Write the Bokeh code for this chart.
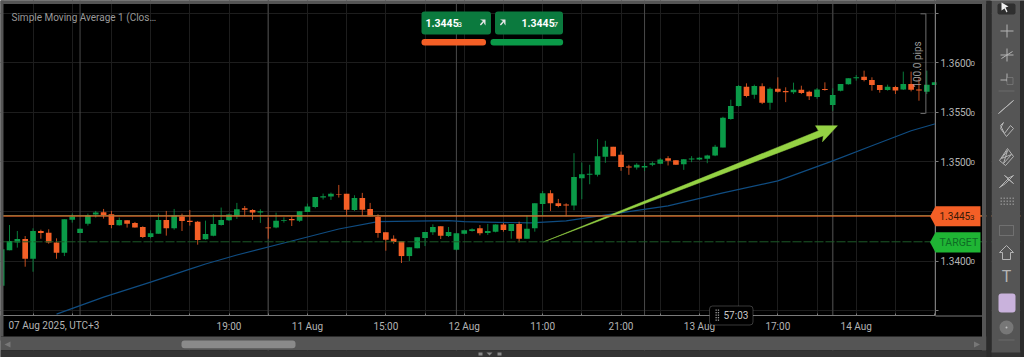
from bokeh.plotting import figure
from bokeh.embed import file_html
from bokeh.resources import INLINE
from bokeh.models import (BoxAnnotation, Label, PolyAnnotation, Span, FixedTicker, Range1d)

BASE = 1.34  # every series below is in pips (0.0001) above this price

colors_up = [1,1,1,0,1,0,0,0,1,1,1,1,1,0,0,1,0,0,0,1,1,0,1,0,0,0,1,1,1,1,1,0,0,1,0,1,1,0,1,1,1,1,1,0,
             0,1,0,0,0,0,0,0,1,1,1,1,0,1,1,1,1,0,1,1,0,1,0,1,1,1,0,0,0,1,1,1,1,1,0,0,0,1,1,1,1,0,
             0,1,1,1,1,1,1,1,1,0,1,0,1,0,0,1,0,0,1,0,1,1,1,1,0,0,0,1,0,1,0,0,1,1]
body_top = [11.8,20.2,22.2,22.2,30.3,30.3,28.6,18.8,42.1,44.8,32.6,46.1,48.8,49.1,47.1,41.4,41.1,38.4,34.3,27.9,41.4,
            41.4,46.1,44.8,40.7,39.7,27.3,37.4,41.4,46.8,52.2,53.2,51.5,50.2,33.7,40.7,41.4,42.4,50.2,54.9,64.6,
            65.3,67.7,67.3,67.7,63.6,63.6,52.5,44.4,29.0,22.5,20.2,13.8,23.9,29.3,34.3,35.0,29.3,27.9,31.0,32.0,
            33.0,30.3,36.7,36.7,37.4,37.4,32.6,58.2,68.3,68.3,58.2,56.9,84.8,87.5,87.9,105.7,115.1,115.1,107.1,95.3,
            97.0,95.9,98.6,102.3,103.7,101.7,102.7,103.3,104.0,106.4,115.1,144.4,156.2,176.4,175.7,176.4,176.1,173.7,173.7,171.4,
            172.7,172.7,170.7,173.0,173.4,167.3,178.4,184.2,185.2,185.8,182.5,177.4,175.7,175.4,178.4,178.4,173.0,177.8,180.1]
body_bot = [-25.0,10.8,18.8,2.3,2.3,28.3,18.8,8.4,8.4,41.7,28.3,37.7,46.8,46.4,36.4,36.0,37.7,33.7,24.2,24.2,27.6,
            33.0,33.0,40.4,39.4,21.2,21.9,25.6,36.4,41.1,45.1,51.8,48.8,48.8,33.0,33.7,40.7,41.1,40.7,49.5,54.5,
            64.0,65.0,66.7,51.8,51.5,51.8,45.1,28.3,21.5,19.2,5.0,5.0,12.8,23.2,29.0,25.6,25.2,11.4,27.6,30.3,
            27.9,28.3,29.6,31.3,30.3,22.5,22.5,33.0,57.6,58.2,55.5,55.9,55.9,83.5,86.9,86.9,105.0,105.7,94.9,94.3,
            94.3,94.3,97.0,98.0,101.0,97.0,97.6,102.3,102.3,103.0,106.4,114.5,143.1,156.2,166.3,167.7,159.6,159.6,170.7,170.0,
            170.0,169.3,166.0,165.3,172.4,157.2,171.7,178.1,184.2,182.5,177.4,172.4,172.4,172.0,173.0,172.7,172.0,170.7,177.4]
high = [11.8,36.3,30.3,25.2,33.0,31.6,32.0,22.9,42.1,47.8,32.6,47.8,50.5,52.5,50.5,43.8,41.1,39.4,35.0,31.0,47.8,
        50.5,52.5,47.8,51.5,40.4,40.7,47.1,53.9,47.8,58.6,55.5,52.2,52.2,43.8,48.8,44.1,44.8,50.2,57.9,64.6,
        68.0,69.0,76.7,67.7,66.3,68.7,58.6,47.1,29.0,25.9,20.2,13.8,23.9,29.3,37.0,35.0,34.3,27.9,31.6,33.0,
        36.3,37.4,37.0,38.4,37.4,39.7,46.1,58.2,70.7,71.4,62.6,58.2,108.7,99.3,97.0,122.9,121.2,115.1,110.4,97.0,
        98.6,98.6,100.3,103.7,105.7,101.7,102.7,105.7,104.7,107.1,117.1,145.4,162.6,177.4,179.1,177.8,179.1,175.1,185.2,175.1,
        179.8,176.7,171.7,174.4,180.1,174.1,178.4,184.2,187.5,191.9,185.2,177.4,177.8,176.7,190.9,190.9,184.2,191.9,180.1]
low = [-25.0,10.8,13.5,-5.7,-10.8,22.5,17.5,2.3,5.0,38.7,28.3,35.7,43.8,42.8,33.0,35.7,33.7,33.7,23.2,22.9,27.6,
       25.6,31.6,30.3,35.7,16.5,21.5,24.9,35.7,40.4,42.4,45.1,41.4,38.4,22.5,33.0,38.7,35.3,39.4,49.5,53.2,
       62.0,61.6,64.0,45.8,50.5,45.4,45.1,23.5,10.4,17.5,-2.0,0.0,12.8,15.1,26.3,22.2,24.2,10.8,26.9,29.6,
       25.9,26.3,28.9,29.6,22.5,18.8,22.5,29.6,46.1,50.5,54.2,45.1,51.2,62.3,77.4,85.2,99.0,105.7,90.9,86.9,
       92.2,90.9,95.6,97.6,96.3,97.0,91.9,99.6,101.7,98.6,105.7,114.5,142.4,155.5,165.0,163.6,158.2,152.5,169.7,160.2,
       168.3,168.3,162.3,163.6,171.7,151.5,171.0,177.8,181.8,181.1,171.7,169.7,171.7,168.3,172.4,171.0,161.6,168.3,177.4]

sma_idx = [6,12,18,23,25,29,35,42,47,56,58,66.5,71,77,84,91,98,105,110,115,118.1]
sma_val = [-53.5,-36.4,-21.2,-8.1,-3.0,6.1,18.2,32.3,39.7,40.7,39.7,38.4,40.4,47.5,55.6,68.7,80.8,101.0,116.2,131.3,138.4]

bid_price = 1.34453
ask_price = 1.34457
target_price = 1.34194

tick_every = list(range(-2, 119, 5))
tick_text = {28: "19:00", 38: "11 Aug", 48: "15:00", 58: "12 Aug", 68: "11:00",
             78: "21:00", 88: "13 Aug", 98: "17:00", 108: "14 Aug"}
session_idx = [9, 33, 57, 81, 105]
price_ticks = [1.335, 1.34, 1.345, 1.35, 1.355, 1.36, 1.365]
price_text = {1.34: "1.3400", 1.35: "1.3500", 1.355: "1.3550", 1.36: "1.3600"}

arrow_idx = [68.1, 103.2, 102.8, 105.6, 103.7, 103.8]
arrow_val = [19.2, 131.3, 136.4, 136.4, 120.2, 126.3]

GREEN = "#0a9a48"
ORANGE = "#f45f26"
FONT = "Roboto"
TXT = "#b4b4b4"

W, H = 1024, 357
X0, X1 = -1.148, 118.11      # index at the chart's left edge and at the price axis
Y0, Y1 = BASE - 54.9e-4, BASE + 262.6e-4   # price at the time axis and at the top
p = figure(width=W, height=H, output_backend="svg", toolbar_location=None,
           y_axis_location="right",
           x_range=Range1d(X0, X0 + 1024 / 7.8402),
           y_range=Range1d(BASE - 97.23e-4, Y1),
           background_fill_color="#000000", border_fill_color="#000000",
           outline_line_color=None, min_border_left=0, min_border_top=0,
           min_border_right=0, min_border_bottom=0)

xa = p.xaxis[0]
xa.fixed_location = Y0
xa.bounds = (X0, X1)
xa.ticker = FixedTicker(ticks=tick_every)
xa.major_label_overrides = {t: tick_text.get(t, "") for t in tick_every}
xa.major_label_text_color = TXT
xa.major_label_text_font = FONT
xa.major_label_text_font_size = "10px"
xa.major_label_standoff = 5
xa.axis_line_color = "#7a7a7a"
xa.major_tick_line_color = "#7a7a7a"
xa.major_tick_in = 2
xa.major_tick_out = 0
xa.minor_tick_line_color = None

ya = p.yaxis[0]
ya.fixed_location = X1
ya.bounds = (Y0, Y1)
ya.ticker = FixedTicker(ticks=price_ticks)
ya.major_label_overrides = {t: price_text.get(t, "") for t in price_ticks}
ya.major_label_text_color = TXT
ya.major_label_text_font = FONT
ya.major_label_text_font_size = "10px"
ya.major_label_standoff = 2
ya.axis_line_color = "#7a7a7a"
ya.major_tick_line_color = "#7a7a7a"
ya.major_tick_in = 0
ya.major_tick_out = 3
ya.minor_tick_line_color = None

p.xgrid.ticker = FixedTicker(ticks=tick_every)
p.ygrid.ticker = FixedTicker(ticks=price_ticks)
p.xgrid.grid_line_color = "#1d1d1d"
p.ygrid.grid_line_color = "#1d1d1d"

def Y(y):
    return H - y
def box(l, t, r, b, color, radius=0, line=None, level="annotation"):
    p.add_layout(BoxAnnotation(left=l, right=r, top=Y(t), bottom=Y(b),
                               left_units="screen", right_units="screen", top_units="screen", bottom_units="screen",
                               fill_color=color, fill_alpha=1, line_color=line, line_width=1,
                               border_radius=radius, level=level))
def poly(xs, ys, fill=None, line=None, lw=1):
    p.add_layout(PolyAnnotation(xs=list(xs), ys=[Y(y) for y in ys],
                                xs_units="screen", ys_units="screen",
                                fill_color=fill, fill_alpha=1 if fill else 0,
                                line_color=line, line_width=lw, line_alpha=1 if line else 0, level="annotation"))
def text(x, y, s, color=TXT, size=10, align="left", bold=False, angle=0):
    p.add_layout(Label(x=x, y=Y(y), x_units="screen", y_units="screen", text=s, text_color=color,
                       text_font=FONT, text_font_size=f"{size}px", text_align=align, text_baseline="middle",
                       text_font_style="bold" if bold else "normal", angle=angle, level="annotation"))

for s in session_idx:
    p.add_layout(Span(location=s, dimension="height", line_color="#4a4a4a" if s not in (33, 105) else "#3a3a3a",
                      line_width=1.5 if s in (33, 105) else 1, level="underlay"))
# keep grid out of the label strips
box(0, 315, 990, 340, "#000000", level="underlay")
box(935.5, 0, 990, 340, "#000000", level="underlay")

def price(v):
    return BASE + v * 1e-4

idx = list(range(-1, len(high) - 1))
p.line(sma_idx, [price(v) for v in sma_val], line_color="#0f4c81", line_width=1.2)

col = [GREEN if u else ORANGE for u in colors_up]
p.segment(idx, [price(v) for v in high], idx, [price(v) for v in low],
          line_color=col, line_width=1, line_alpha=0.8)
p.vbar(idx, width=0.72, top=[price(v) for v in body_top], bottom=[price(v) for v in body_bot],
       fill_color=col, line_color=None)

p.add_layout(Span(location=target_price, dimension="width", line_color="#1c5a28",
                  line_width=1, line_dash="9 2"))
p.add_layout(Span(location=ask_price, dimension="width", line_color="#6f8f4a", line_width=1))
p.add_layout(Span(location=bid_price, dimension="width", line_color=ORANGE, line_width=1))

p.patch(arrow_idx, [price(v) for v in arrow_val], fill_color="#95d244", line_color="#95d244", line_width=0.5)

# frame pieces around the panel
box(936, 80, 940, 96, "#000000")
box(0, 0, 986, 3.5, "#555555")
box(0, 0, 3, 336, "#555555")
box(935, 315, 981.5, 316, "#7a7a7a")
box(0, 336, 986, 350, "#555555")
box(0, 350, 1024, 357, "#333333")
box(981.5, 0, 986, 350, "#555555")
box(986, 0, 991, 357, "#2b2b2b")
box(991, 0, 1020, 352, "#555555")
box(1020, 0, 1024, 357, "#2b2b2b")
box(181, 340, 295, 347.7, "#8a8a8a", 3)
poly([973.5, 979.5, 973.5], [341, 344, 347], fill="#777777")
poly([10, 4, 10], [341, 344, 347], fill="#777777")
box(478, 352, 482, 355, "#888888"); box(497, 352, 501, 355, "#888888")
poly([486, 492, 489], [352, 352, 355], fill="#888888")

text(11, 17, "Simple Moving Average 1 (Clos…", "#9a9a9a", 10)
text(8, 325, "07 Aug 2025, UTC+3")
for yy in (62, 112, 161, 260):
    text(970, yy + 1, "0", TXT, 8)

# price tags
poly([929.5, 935, 980, 980, 935], [215.7, 205.7, 205.7, 225.7, 225.7], fill=ORANGE)
text(939, 215.7, "1.3445", "#3a1a08", 10)
text(969.5, 216.7, "3", "#3a1a08", 8)
poly([929.5, 935, 980, 980, 935], [241.7, 231.7, 231.7, 252, 252], fill="#1fb534")
text(939, 241.7, "TARGET", "#0e6b25", 10.5)

# measure bracket
box(925, 13, 925.8, 113, "#8a8a8a")
box(920, 13, 925, 13.8, "#8a8a8a")
box(920, 112.5, 925, 113.3, "#8a8a8a")
text(917, 64, "100.0 pips", "#9a9a9a", 10, "center", angle=1.5708)

# trade panel
box(421, 11, 490.5, 34, "#0b7a3e", 3)
box(494.5, 11, 562.5, 34, "#0b7a3e", 3)
text(425, 22.5, "1.3445", "#ffffff", 10.5, bold=True)
text(457, 23.5, "3", "#ffffff", 8)
text(521, 22.5, "1.3445", "#ffffff", 10.5, bold=True)
text(553, 23.5, "7", "#ffffff", 8)
arrow_dx = [0, 5.5, 5.5, 4.1, 4.1, 0.9, -0.1, 2.9]
arrow_dy = [19, 19, 25, 23, 21.4, 25, 24, 20.4]
poly([479.5 + d for d in arrow_dx], arrow_dy, fill="#e8e8e8")
poly([499.5 + d for d in arrow_dx], arrow_dy, fill="#e8e8e8")
box(421, 38.6, 485.5, 45, ORANGE, 3)
box(490, 38.6, 562.6, 45, GREEN, 3)

# countdown
box(709, 305.5, 752.5, 324.5, "#000000", 3, "#b8b8b8")
text(723, 315, "57:03", "#c8c8c8", 10)
for yy in (309, 311.5, 314, 316.5, 319):
    box(715, yy, 716.3, yy + 1.3, "#9a9a9a")
    box(717.3, yy, 718.6, yy + 1.3, "#9a9a9a")

# tool strip
IC = "#b4b4b4"
box(997, 3, 1015, 14, "#2f2f2f", 2)
poly([1001, 1001, 1004, 1006, 1007, 1005, 1008], [2, 10, 8, 12, 11, 7, 6], fill="#f0f0f0")
box(1000, 30, 1013, 31, IC); box(1006, 24, 1007, 37, IC)
box(1000, 54, 1013, 55, IC); box(1006, 48, 1007, 61, IC)
poly([1001, 1012], [58, 51], line=IC)
box(1000, 79, 1008, 80, IC); box(1006, 73, 1007, 81, IC)
box(1006.5, 77, 1012.5, 84, "#555555", 0, IC)
box(998, 90, 1014, 91, "#6a6a6a")
poly([998, 1013, 998], [113, 100, 113], line=IC)
poly([1000, 1003, 1000, 1003, 1006, 1013, 1010, 1004], [125, 122, 128, 132, 136, 128, 125, 133], line=IC)
poly([999, 1007, 1013, 1005], [160, 148, 156, 165], line=IC)
poly([1001, 1007, 1003, 1011], [158, 150, 163, 154], line=IC)
poly([999, 1008, 1004, 1013, 1007, 1013, 1005], [187, 178, 175, 183, 178, 175, 183], line=IC)
for yy in (197, 200, 203):
    for xx in range(1000, 1013, 3):
        box(xx, yy, xx + 1.5, yy + 1.5, "#8a8a8a")
box(999, 225, 1013, 235, "#555555", 0, IC)
poly([1006, 1013, 1010, 1010, 1002, 1002, 999], [245, 252, 252, 259, 259, 252, 252], line=IC)
text(1006, 276, "T", IC, 16, "center")
box(998, 293, 1015, 312, "#c9b2dc", 3)
box(999, 320, 1013, 334, "#777777", 7)
box(1005, 326, 1007, 328, "#c0c0c0", 1)
box(998, 339, 1014, 340, "#6a6a6a")

open("out.html", "w").write(file_html(p, INLINE))
